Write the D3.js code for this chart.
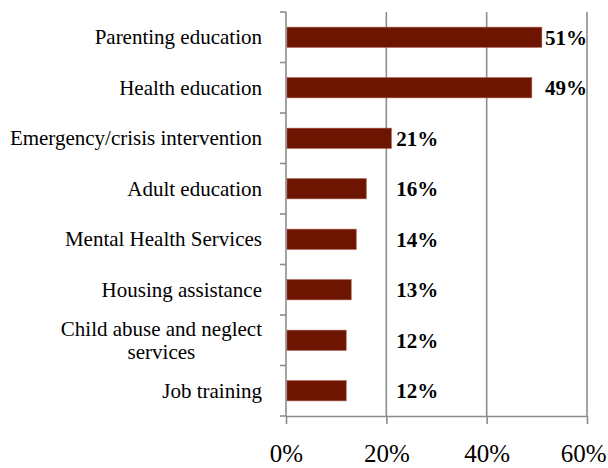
<!DOCTYPE html>
<html>
<head>
<meta charset="utf-8">
<script src="https://cdn.jsdelivr.net/npm/d3@7"></script>
<style>
  html, body { margin: 0; padding: 0; background: #ffffff; }
  svg { display: block; }
  text { font-family: "Liberation Serif", "Times New Roman", serif; fill: #000; }
</style>
</head>
<body>
<svg id="chart" width="608" height="468"></svg>
<script>
// Services used, share of respondents
const categories = [
  "Parenting education",
  "Health education",
  "Emergency/crisis intervention",
  "Adult education",
  "Mental Health Services",
  "Housing assistance",
  "Child abuse and neglect services",
  "Job training"
];
const shares = [0.51, 0.49, 0.21, 0.16, 0.14, 0.13, 0.12, 0.12];
const xTicks = [0, 0.2, 0.4, 0.6];

const W = 608;
const plot = { left: 286, right: 587, top: 12, bottom: 416 };
const barColor = "#6d1500";
const gridColor = "#8c8c8c";

const svg = d3.select("#chart");

const x = d3.scaleLinear().domain([0, 0.6]).range([plot.left, plot.right]);
const y = d3.scaleBand().domain(categories).range([plot.top, plot.bottom])
  .paddingInner(0.6).paddingOuter(0.3);

// vertical gridlines
svg.append("g").selectAll("line")
  .data(xTicks.filter(d => d > 0))
  .join("line")
  .attr("x1", d => x(d)).attr("x2", d => x(d))
  .attr("y1", plot.top).attr("y2", plot.bottom)
  .attr("stroke", gridColor).attr("stroke-width", 1.6);

// bottom axis
const fmt = d3.format(".0%");
const xAxis = svg.append("g")
  .attr("transform", `translate(0,${plot.bottom})`)
  .call(d3.axisBottom(x).tickValues(xTicks).tickSize(8).tickSizeOuter(0).tickFormat(fmt));
xAxis.select(".domain").attr("stroke", gridColor).attr("stroke-width", 1.6);
xAxis.selectAll(".tick line").attr("stroke", gridColor).attr("stroke-width", 1.6);
xAxis.selectAll(".tick text")
  .attr("y", 46).attr("dy", 0)
  .style("font-family", '"Liberation Serif", "Times New Roman", serif')
  .style("font-size", "25px").attr("fill", "#000");
// keep the last tick label inside the canvas
xAxis.selectAll(".tick text").each(function () {
  const tick = d3.select(this.parentNode);
  const tx = x(d3.select(this).datum());
  const w = this.getComputedTextLength();
  if (tx + w / 2 > W - 2) {
    d3.select(this).attr("text-anchor", "end").attr("x", W - 2 - tx);
  }
});

// left axis with ticks between categories
const boundaries = categories.map(c => y(c) - y.step() * y.paddingInner() / 2)
  .concat([plot.bottom]);
boundaries[0] = plot.top;
const yAxis = svg.append("g");
yAxis.append("line")
  .attr("x1", plot.left).attr("x2", plot.left)
  .attr("y1", plot.top).attr("y2", plot.bottom)
  .attr("stroke", gridColor).attr("stroke-width", 1.6);
yAxis.selectAll("line.tick")
  .data(boundaries)
  .join("line").attr("class", "tick")
  .attr("x1", plot.left - 6).attr("x2", plot.left)
  .attr("y1", d => d).attr("y2", d => d)
  .attr("stroke", gridColor).attr("stroke-width", 1.6);

// bars
svg.append("g").selectAll("rect")
  .data(categories.map((c, i) => ({ c, v: shares[i] })))
  .join("rect")
  .attr("x", x(0) + 1)
  .attr("y", d => y(d.c))
  .attr("width", d => x(d.v) - x(0) - 1)
  .attr("height", y.bandwidth())
  .attr("fill", barColor)
  .attr("stroke", "#a4584a").attr("stroke-width", 0.6);

// category labels, wrapped when too wide
const labelRight = 262;
const maxLabelWidth = 258;
const catG = svg.append("g");
categories.forEach(c => {
  const t = catG.append("text")
    .attr("font-size", 21)
    .attr("text-anchor", "end")
    .attr("x", labelRight);
  const probe = t.text(c).node().getComputedTextLength();
  const cy = y(c) + y.bandwidth() / 2;
  if (probe <= maxLabelWidth) {
    t.attr("y", cy).attr("dy", "0.33em");
    return;
  }
  // break into lines that fit
  const words = c.split(" ");
  const lines = [];
  let cur = [];
  words.forEach(w => {
    const test = cur.concat([w]).join(" ");
    t.text(test);
    if (t.node().getComputedTextLength() > maxLabelWidth && cur.length) {
      lines.push(cur.join(" "));
      cur = [w];
    } else {
      cur.push(w);
    }
  });
  lines.push(cur.join(" "));
  const widest = d3.max(lines, l => { t.text(l); return t.node().getComputedTextLength(); });
  t.text(null).attr("text-anchor", "middle").attr("x", labelRight - widest / 2);
  const lh = 23;
  const startY = cy - (lines.length - 1) * lh / 2;
  lines.forEach((l, i) => {
    t.append("tspan")
      .attr("x", labelRight - widest / 2)
      .attr("y", startY + i * lh)
      .attr("dy", "0.33em")
      .text(l);
  });
});

// value labels: long bars end under the last gridline, short ones sit past the 20% line
svg.append("g").selectAll("text")
  .data(categories.map((c, i) => ({ c, v: shares[i] })))
  .join("text")
  .attr("font-size", 21)
  .attr("font-weight", "bold")
  .attr("text-anchor", d => d.v < 0.3 ? "start" : "end")
  .attr("x", d => d.v < 0.3 ? x(0.2) + 10 : x(0.6))
  .attr("y", d => y(d.c) + y.bandwidth() / 2)
  .attr("dy", "0.35em")
  .text(d => fmt(d.v));
</script>
</body>
</html>
